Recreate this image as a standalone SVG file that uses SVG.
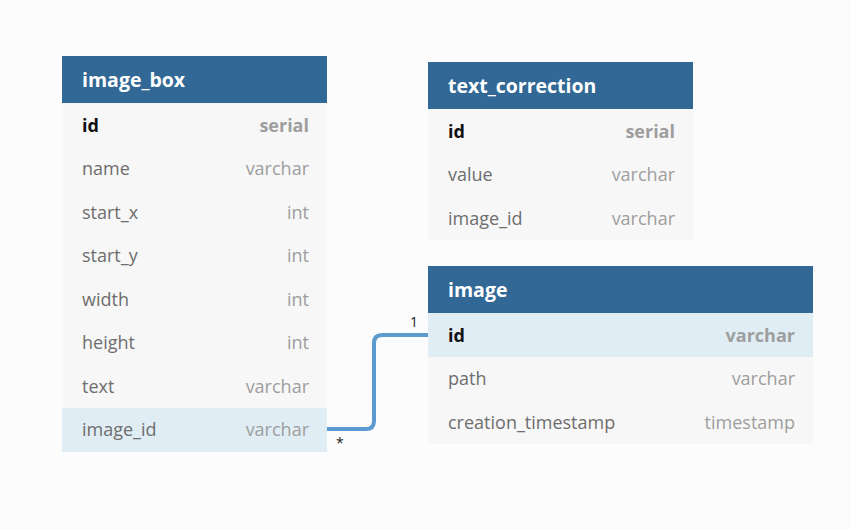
<svg xmlns="http://www.w3.org/2000/svg" width="851" height="530" viewBox="0 0 851 530">
<style>
.hd{fill:#316895}
.row{fill:#f7f7f7}
.hl{fill:#e0edf4}
.ht{font-family:"Open Sans",sans-serif;font-size:19.5px;font-weight:bold;fill:#ffffff}
.fn{font-family:"Open Sans",sans-serif;font-size:18px;fill:#6e6e6e}
.fk{font-family:"Open Sans",sans-serif;font-size:18px;font-weight:bold;fill:#111111}
.ty{font-family:"Open Sans",sans-serif;font-size:18px;fill:#9e9e9e;text-anchor:end}
.tk{font-family:"Open Sans",sans-serif;font-size:18px;font-weight:bold;fill:#9e9e9e;text-anchor:end}
.lbl{font-family:"Open Sans",sans-serif;font-size:14px;fill:#222}
</style>
<rect width="851" height="530" fill="#fcfcfc"/>
<g id="image_box">
<rect class="hd" x="62" y="56" width="265" height="47"/>
<text class="ht" x="82" y="87">image_box</text>
<rect class="row" x="62" y="103" width="265" height="306"/>
<rect class="hl" x="62" y="408" width="265" height="44"/>
<text class="fk" x="82" y="132">id</text><text class="tk" x="309" y="132">serial</text>
<text class="fn" x="82" y="175">name</text><text class="ty" x="309" y="175">varchar</text>
<text class="fn" x="82" y="219">start_x</text><text class="ty" x="309" y="219">int</text>
<text class="fn" x="82" y="262">start_y</text><text class="ty" x="309" y="262">int</text>
<text class="fn" x="82" y="306">width</text><text class="ty" x="309" y="306">int</text>
<text class="fn" x="82" y="349">height</text><text class="ty" x="309" y="349">int</text>
<text class="fn" x="82" y="393">text</text><text class="ty" x="309" y="393">varchar</text>
<text class="fn" x="82" y="436">image_id</text><text class="ty" x="309" y="436">varchar</text>
</g>
<g id="text_correction">
<rect class="hd" x="428" y="62" width="265" height="47"/>
<text class="ht" x="448" y="93">text_correction</text>
<rect class="row" x="428" y="109" width="265" height="131"/>
<text class="fk" x="448" y="138">id</text><text class="tk" x="675" y="138">serial</text>
<text class="fn" x="448" y="181">value</text><text class="ty" x="675" y="181">varchar</text>
<text class="fn" x="448" y="225">image_id</text><text class="ty" x="675" y="225">varchar</text>
</g>
<g id="image">
<rect class="hd" x="428" y="266" width="385" height="47"/>
<text class="ht" x="448" y="297">image</text>
<rect class="hl" x="428" y="313" width="385" height="44"/>
<rect class="row" x="428" y="357" width="385" height="87"/>
<text class="fk" x="448" y="342">id</text><text class="tk" x="795" y="342">varchar</text>
<text class="fn" x="448" y="385">path</text><text class="ty" x="795" y="385">varchar</text>
<text class="fn" x="448" y="429">creation_timestamp</text><text class="ty" x="795" y="429">timestamp</text>
</g>
<g id="connectors">
<path d="M327,429 H366 Q374,429 374,421 V343 Q374,335 382,335 H428" fill="none" stroke="#5b9bd0" stroke-width="4"/>
<text class="lbl" x="410" y="327">1</text>
<text class="lbl" x="336" y="448">*</text>
</g>
</svg>
